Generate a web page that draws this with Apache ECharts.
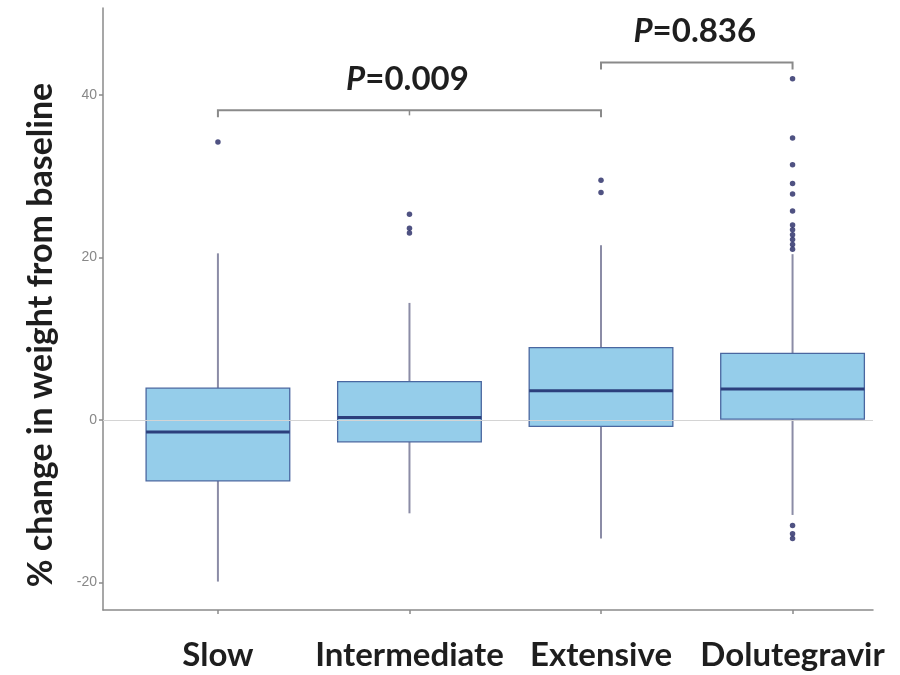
<!DOCTYPE html>
<html><head><meta charset="utf-8">
<script src="https://cdn.jsdelivr.net/npm/echarts@6/dist/echarts.min.js"></script>
<style>html,body{margin:0;padding:0;background:#fff}#c{width:900px;height:675px}</style>
</head><body><div id="c"></div>
<script>
var categories = ['Slow', 'Intermediate', 'Extensive', 'Dolutegravir'];
var lowerWhisker = [-19.9, -11.5, -14.6, -11.7];
var q1 = [-7.5, -2.7, -0.8, 0.1];
var median = [-1.5, 0.3, 3.6, 3.8];
var q3 = [3.9, 4.7, 8.9, 8.2];
var upperWhisker = [20.5, 14.4, 21.5, 20.4];
var outliersSlow = [34.2];
var outliersIntermediate = [25.3, 23.6, 23.0];
var outliersExtensive = [29.5, 28.0];
var outliersDolutegravir = [42.0, 34.7, 31.4, 29.1, 27.8, 25.7, 24.0, 23.4, 22.8, 22.2, 21.6, 21.0, -13.0, -14.0, -14.6];
var yTicks = [-20, 0, 20, 40];
var yTitle = '% change in weight from baseline';
// comparisons: from category index, to category index, bracket height, p-value text
var comparisonFrom = [0, 2];
var comparisonTo = [2, 3];
var comparisonY = [38.1, 44.0];
var comparisonP = ['0.009', '0.836'];

var boxData = categories.map(function (c, i) {
  return [i, lowerWhisker[i], q1[i], median[i], q3[i], upperWhisker[i]];
});
var outlierData = [];
[outliersSlow, outliersIntermediate, outliersExtensive, outliersDolutegravir].forEach(function (arr, i) {
  arr.forEach(function (v) { outlierData.push([i, v]); });
});
var bracketData = comparisonFrom.map(function (f, i) {
  return [f, comparisonTo[i], comparisonY[i], i];
});

var FONT = 'Lato';
var chart = echarts.init(document.getElementById('c'), null, {renderer: 'canvas'});
chart.setOption({
  animation: false,
  backgroundColor: '#ffffff',
  grid: {left: 103, right: 27, top: 8, bottom: 65},
  graphic: [{
    type: 'text', x: 41, y: 335, rotation: Math.PI / 2,
    style: {text: yTitle, align: 'center', verticalAlign: 'middle',
      fontFamily: FONT, fontWeight: 'bold', fontSize: 34, fill: '#1e1e1e'}
  }],
  xAxis: {
    type: 'value', min: -0.6, max: 3.42,
    splitLine: {show: false},
    axisLine: {show: true, onZero: false, lineStyle: {color: '#8a8a8a', width: 1.5}},
    axisTick: {show: true, customValues: [0, 1, 2, 3], length: 4, lineStyle: {color: '#8a8a8a', width: 1.5}},
    axisLabel: {
      customValues: [0, 1, 2, 3], margin: 29,
      formatter: function (v) { return categories[Math.round(v)]; },
      fontFamily: FONT, fontWeight: 'bold', fontSize: 33, color: '#1e1e1e'
    }
  },
  yAxis: {
    type: 'value', min: -23.4, max: 50.7,
    splitLine: {show: false},
    axisLine: {show: true, onZero: false, lineStyle: {color: '#8a8a8a', width: 1.5}},
    axisTick: {show: true, customValues: yTicks, length: 4, lineStyle: {color: '#8a8a8a', width: 1.5}},
    axisLabel: {customValues: yTicks, margin: 6, fontFamily: 'Liberation Sans', fontSize: 14, color: '#888888'}
  },
  series: [
    {
      type: 'custom',
      data: boxData,
      encode: {x: 0, y: [1, 2, 3, 4, 5]},
      z: 3,
      markLine: {
        silent: true, symbol: 'none', label: {show: false},
        lineStyle: {color: '#d4d4d4', width: 1.2, type: 'solid'},
        data: [{yAxis: 0}]
      },
      renderItem: function (params, api) {
        var x = api.value(0);
        var pL = api.coord([x, api.value(1)]);
        var p1 = api.coord([x, api.value(2)]);
        var pm = api.coord([x, api.value(3)]);
        var p3 = api.coord([x, api.value(4)]);
        var pU = api.coord([x, api.value(5)]);
        var hw = api.size([0.75, 0])[0] / 2;
        var wStyle = {stroke: '#8b8ca6', lineWidth: 2};
        return {
          type: 'group',
          children: [
            {type: 'line', shape: {x1: pU[0], y1: pU[1], x2: p3[0], y2: p3[1]}, style: wStyle},
            {type: 'line', shape: {x1: p1[0], y1: p1[1], x2: pL[0], y2: pL[1]}, style: wStyle},
            {type: 'rect', shape: {x: p3[0] - hw, y: p3[1], width: hw * 2, height: p1[1] - p3[1]},
              style: {fill: '#95cdea', stroke: '#4a67a0', lineWidth: 1.3}},
            {type: 'line', shape: {x1: pm[0] - hw, y1: pm[1], x2: pm[0] + hw, y2: pm[1]},
              style: {stroke: '#2c3f7c', lineWidth: 3}}
          ]
        };
      }
    },
    {
      type: 'scatter',
      data: outlierData,
      symbol: 'circle', symbolSize: 5.5,
      itemStyle: {color: '#232763'},
      z: 4
    },
    {
      type: 'custom',
      data: bracketData,
      encode: {x: [0, 1], y: 2},
      z: 5,
      renderItem: function (params, api) {
        var f = api.value(0), t = api.value(1), y = api.value(2);
        var idx = api.value(3);
        var a = api.coord([f, y]);
        var b = api.coord([t, y]);
        var leg = 7;
        var children = [
          {type: 'polyline', shape: {points: [[a[0], a[1] + leg], [a[0], a[1]], [b[0], b[1]], [b[0], b[1] + leg]]},
            style: {stroke: '#8a8a8a', lineWidth: 2, fill: null}}
        ];
        if (t - f > 1) {
          var m = api.coord([(f + t) / 2, y]);
          children.push({type: 'line', shape: {x1: m[0], y1: m[1], x2: m[0], y2: m[1] + 5},
            style: {stroke: '#8a8a8a', lineWidth: 1.5}});
        }
        var cx = (a[0] + b[0]) / 2;
        children.push({
          type: 'text',
          x: cx - 2, y: a[1] - 15,
          style: {
            text: '{i|P}{n|=' + comparisonP[idx] + '}',
            align: 'center', verticalAlign: 'bottom',
            rich: {
              i: {fontFamily: FONT, fontWeight: 'bold', fontStyle: 'italic', fontSize: 33, fill: '#1e1e1e'},
              n: {fontFamily: FONT, fontWeight: 'bold', fontSize: 33, fill: '#1e1e1e'}
            }
          }
        });
        return {type: 'group', children: children};
      }
    }
  ]
});
</script>
</body></html>
